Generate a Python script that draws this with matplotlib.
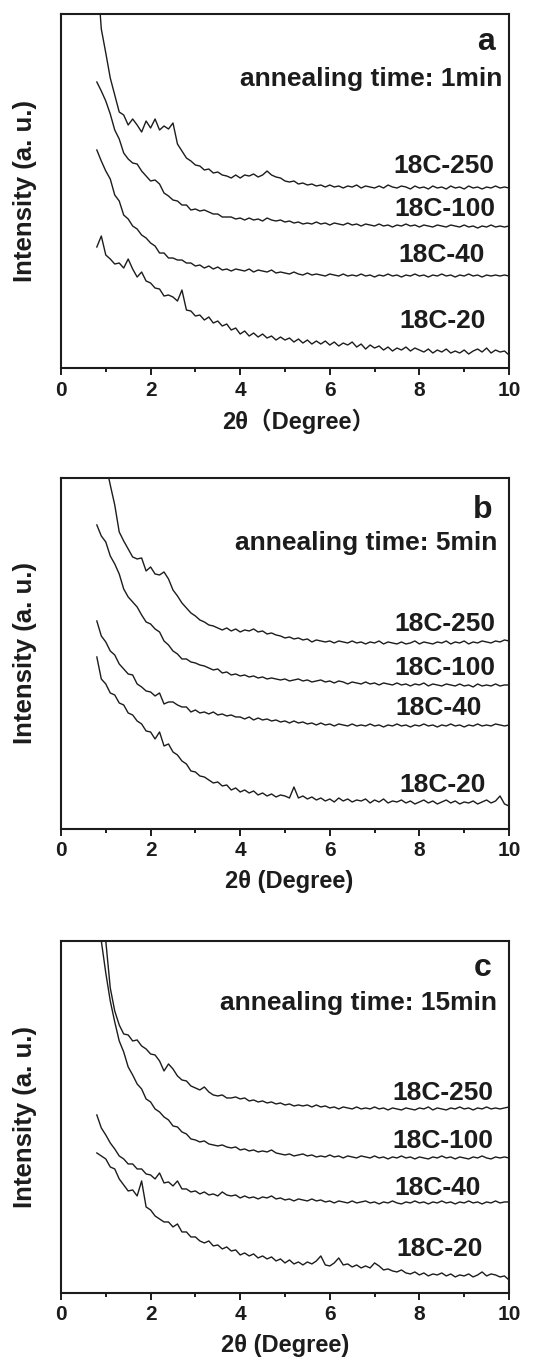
import matplotlib
matplotlib.use('Agg')
import matplotlib.pyplot as plt
from matplotlib.ticker import MultipleLocator

plt.rcParams['font.family'] = ['Liberation Sans', 'Noto Sans CJK SC', 'DejaVu Sans']
plt.rcParams['font.weight'] = 'bold'

# 2theta grid (degree), 0.8 .. 10.0
two_theta = [0.8, 0.9, 1.0, 1.1, 1.2, 1.3, 1.4, 1.5, 1.6, 1.7,
             1.8, 1.9, 2.0, 2.1, 2.2, 2.3, 2.4, 2.5, 2.6, 2.7,
             2.8, 2.9, 3.0, 3.1, 3.2, 3.3, 3.4, 3.5, 3.6, 3.7,
             3.8, 3.9, 4.0, 4.1, 4.2, 4.3, 4.4, 4.5, 4.6, 4.7,
             4.8, 4.9, 5.0, 5.1, 5.2, 5.3, 5.4, 5.5, 5.6, 5.7,
             5.8, 5.9, 6.0, 6.1, 6.2, 6.3, 6.4, 6.5, 6.6, 6.7,
             6.8, 6.9, 7.0, 7.1, 7.2, 7.3, 7.4, 7.5, 7.6, 7.7,
             7.8, 7.9, 8.0, 8.1, 8.2, 8.3, 8.4, 8.5, 8.6, 8.7,
             8.8, 8.9, 9.0, 9.1, 9.2, 9.3, 9.4, 9.5, 9.6, 9.7,
             9.8, 9.9, 10.0]

sample_names = ['18C-250', '18C-100', '18C-40', '18C-20']
annealing_times = ['1min', '5min', '15min']
panel_letters = ['a', 'b', 'c']

# ---- panel a : 1 min (stacked, offsets included) ----
a_250 = [400, 339, 315, 290, 273, 256, 253, 243, 249, 243,
         236, 247, 240, 249, 238, 242, 239, 245, 224, 217,
         210, 207, 203, 202, 198, 199, 195, 196, 193, 192,
         190, 193, 190, 193, 192, 194, 191, 193, 197, 193,
         191, 190, 187, 186, 187, 184, 185, 183, 184, 182,
         183, 181, 183, 181, 182, 180, 182, 181, 183, 180,
         182, 181, 180, 182, 180, 183, 181, 180, 182, 181,
         179, 182, 180, 181, 179, 182, 180, 181, 179, 182,
         180, 181, 179, 182, 180, 181, 179, 181, 180, 182,
         180, 181, 180]
a_100 = [286, 277, 267, 254, 238, 229, 215, 209, 205, 204,
         197, 192, 187, 188, 184, 175, 172, 168, 167, 163,
         163, 158, 159, 157, 158, 156, 154, 154, 151, 151,
         151, 149, 150, 148, 150, 148, 149, 147, 150, 148,
         147, 148, 146, 147, 145, 146, 144, 145, 144, 146,
         144, 145, 143, 145, 144, 143, 145, 143, 144, 142,
         144, 143, 142, 144, 142, 143, 141, 143, 142, 144,
         142, 143, 141, 143, 142, 141, 143, 142, 141, 143,
         142, 141, 143, 141, 142, 140, 142, 141, 143, 141,
         142, 141, 142]
a_40 = [218, 207, 197, 189, 173, 167, 153, 149, 142, 139,
        133, 130, 125, 122, 115, 115, 110, 110, 108, 108,
        105, 105, 102, 103, 100, 102, 99, 101, 98, 99,
        97, 99, 98, 97, 99, 96, 98, 97, 96, 98,
        95, 96, 95, 94, 96, 94, 93, 95, 93, 94,
        93, 92, 94, 93, 92, 94, 92, 93, 92, 94,
        92, 93, 91, 93, 92, 94, 92, 93, 91, 93,
        92, 94, 92, 93, 91, 93, 92, 94, 92, 93,
        91, 93, 92, 94, 92, 93, 91, 93, 92, 93,
        92, 93, 92]
a_20 = [121, 132, 113, 109, 104, 105, 100, 109, 99, 91,
        96, 87, 85, 80, 79, 72, 73, 71, 67, 78,
        58, 57, 52, 53, 48, 51, 45, 47, 42, 44,
        38, 40, 34, 37, 32, 35, 31, 34, 30, 32,
        28, 31, 28, 30, 26, 29, 25, 28, 24, 27,
        24, 27, 23, 26, 22, 25, 23, 26, 21, 24,
        19, 23, 20, 22, 18, 21, 17, 20, 18, 21,
        17, 20, 18, 16, 19, 15, 18, 16, 19, 15,
        17, 15, 18, 14, 17, 19, 16, 20, 15, 18,
        16, 17, 13]

# ---- panel b : 5 min ----
b_250 = [450, 400, 365, 344, 324, 297, 288, 280, 272, 270,
         271, 258, 262, 255, 254, 257, 250, 239, 233, 226,
         221, 216, 213, 209, 207, 204, 203, 201, 199, 201,
         198, 200, 197, 199, 198, 200, 197, 198, 195, 196,
         194, 193, 191, 192, 190, 191, 189, 190, 187, 189,
         188, 187, 188, 186, 188, 187, 186, 188, 186, 187,
         185, 187, 186, 188, 185, 187, 186, 185, 187, 185,
         186, 188, 185, 187, 186, 185, 187, 186, 188, 185,
         187, 186, 188, 185, 187, 186, 188, 187, 186, 188,
         187, 189, 188]
b_100 = [304, 293, 287, 273, 265, 255, 240, 232, 227, 222,
         214, 207, 205, 200, 197, 188, 184, 178, 175, 170,
         170, 167, 166, 164, 163, 161, 159, 160, 156, 157,
         154, 155, 153, 154, 152, 153, 151, 152, 150, 151,
         150, 149, 150, 148, 149, 150, 148, 149, 147, 148,
         149, 147, 148, 146, 148, 147, 145, 147, 146, 145,
         147, 145, 146, 144, 146, 145, 144, 146, 144, 145,
         143, 145, 144, 146, 143, 145, 144, 143, 145, 144,
         143, 145, 143, 144, 142, 145, 143, 144, 143, 145,
         143, 144, 144]
b_40 = [208, 193, 187, 178, 174, 165, 160, 155, 154, 145,
        142, 138, 137, 133, 136, 125, 127, 127, 124, 122,
        122, 117, 119, 116, 117, 115, 117, 114, 115, 113,
        114, 112, 112, 110, 112, 109, 111, 109, 110, 108,
        109, 107, 108, 106, 108, 106, 107, 105, 106, 104,
        106, 104, 105, 103, 105, 104, 103, 105, 103, 104,
        103, 105, 103, 104, 102, 104, 103, 105, 103, 104,
        102, 104, 103, 105, 103, 104, 102, 104, 103, 105,
        103, 104, 102, 104, 103, 105, 103, 104, 103, 105,
        104, 103, 104]
b_20 = [172, 150, 145, 136, 134, 126, 124, 116, 114, 108,
        105, 98, 97, 90, 97, 83, 85, 77, 74, 68,
        65, 58, 57, 53, 52, 49, 46, 47, 43, 44,
        39, 41, 37, 39, 36, 38, 34, 36, 33, 35,
        32, 34, 33, 31, 42, 31, 33, 30, 32, 29,
        31, 28, 30, 27, 31, 28, 30, 27, 29, 28,
        30, 26, 29, 27, 30, 26, 28, 27, 29, 26,
        28, 25, 27, 29, 26, 28, 25, 27, 29, 26,
        28, 25, 27, 26, 28, 25, 27, 29, 26, 28,
        33, 25, 23]

# ---- panel c : 15 min ----
c_250 = [480, 420, 352, 305, 282, 268, 259, 258, 252, 253,
         247, 244, 239, 238, 232, 222, 229, 224, 217, 213,
         212, 207, 205, 203, 206, 201, 198, 197, 198, 195,
         195, 196, 194, 195, 192, 193, 191, 192, 190, 191,
         189, 190, 188, 189, 187, 188, 187, 188, 186, 188,
         186, 187, 185, 186, 184, 186, 185, 184, 186, 184,
         185, 184, 186, 184, 185, 183, 185, 184, 183, 185,
         184, 183, 185, 184, 186, 183, 185, 184, 183, 185,
         184, 186, 184, 185, 183, 185, 184, 186, 184, 185,
         184, 185, 186]
c_100 = [420, 352, 320, 292, 271, 252, 241, 226, 218, 209,
         204, 194, 191, 184, 181, 176, 173, 167, 166, 161,
         159, 154, 153, 151, 152, 149, 148, 147, 148, 146,
         145, 146, 143, 144, 142, 143, 141, 142, 141, 143,
         140, 139, 138, 139, 137, 138, 139, 137, 138, 136,
         137, 136, 138, 136, 137, 135, 137, 136, 135, 137,
         136, 135, 137, 135, 136, 134, 136, 135, 137, 135,
         136, 134, 136, 135, 134, 136, 135, 137, 135, 136,
         134, 136, 135, 134, 136, 135, 137, 135, 134, 136,
         135, 136, 135]
c_40 = [178, 165, 158, 150, 144, 137, 134, 129, 129, 124,
        124, 119, 118, 114, 120, 110, 111, 107, 112, 104,
        104, 101, 102, 99, 101, 98, 99, 97, 101, 98,
        97, 98, 95, 97, 95, 96, 94, 96, 95, 97,
        94, 95, 93, 94, 92, 94, 93, 92, 94, 92,
        93, 91, 92, 90, 92, 91, 90, 92, 90, 91,
        92, 90, 91, 89, 91, 90, 92, 90, 89, 91,
        90, 92, 90, 91, 89, 91, 90, 92, 90, 91,
        89, 91, 90, 92, 90, 91, 89, 91, 90, 92,
        90, 91, 91]
c_20 = [140, 137, 134, 126, 124, 114, 108, 102, 103, 97,
        112, 86, 83, 77, 74, 71, 71, 66, 69, 61,
        61, 56, 56, 52, 50, 52, 47, 48, 44, 46,
        42, 43, 38, 40, 37, 39, 35, 37, 34, 36,
        32, 34, 30, 33, 29, 31, 28, 31, 29, 32,
        37, 28, 27, 30, 35, 28, 29, 26, 28, 25,
        27, 25, 30, 27, 23, 24, 22, 21, 23, 20,
        19, 21, 18, 20, 17, 19, 18, 20, 17, 19,
        16, 18, 17, 19, 16, 18, 21, 17, 19, 18,
        16, 17, 13]

panels = [[a_250, a_100, a_40, a_20],
          [b_250, b_100, b_40, b_20],
          [c_250, c_100, c_40, c_20]]

# layout (figure fractions) and label spots
axes_rects = [[0.1089, 0.7292, 0.8, 0.2605],
              [0.1089, 0.3900, 0.8, 0.2583],
              [0.1089, 0.0486, 0.8, 0.2590]]
y_tops = [354, 351, 352]
label_spots = [[(8.55, 195), (8.58, 152), (8.50, 106), (8.52, 40)],
               [(8.58, 198), (8.58, 154), (8.43, 114), (8.52, 37)],
               [(8.52, 193), (8.53, 145), (8.41, 98), (8.45, 37)]]
letter_spots = [(9.68, 318), (9.63, 311), (9.60, 317)]
time_spots = [(9.86, 282), (9.73, 279), (9.73, 283)]
xlabels = ['2θ（Degree）', '2θ (Degree)', '2θ (Degree)']
xlabel_x = [0.53, 0.51, 0.5]

ink = '#1c1c1c'
fig = plt.figure(figsize=(5.6, 13.59), dpi=100)

for k in range(3):
    ax = fig.add_axes(axes_rects[k])
    for curve in panels[k]:
        ax.plot(two_theta, curve, color=ink, lw=1.0)

    ax.set_xlim(0, 10)
    ax.set_ylim(0, y_tops[k])
    ax.set_yticks([])
    ax.xaxis.set_major_locator(MultipleLocator(2))
    ax.xaxis.set_minor_locator(MultipleLocator(1))
    ax.tick_params(axis='x', which='major', direction='out', length=5,
                   width=1.4, labelsize=15, pad=4, colors=ink)
    ax.tick_params(axis='x', which='minor', direction='out', length=3,
                   width=1.4, colors=ink)
    ax.tick_params(top=False, right=False)
    for lab in ax.get_xticklabels():
        lab.set_fontweight('bold')
    for sp in ax.spines.values():
        sp.set_linewidth(1.5)
        sp.set_color(ink)

    for name, (tx, ty) in zip(sample_names, label_spots[k]):
        ax.text(tx, ty, name, ha='center', va='baseline', fontsize=19,
                fontweight='bold', color=ink)
    lx, ly = letter_spots[k]
    ax.text(lx, ly, panel_letters[k], ha='right', va='baseline', fontsize=23,
            fontweight='bold', color=ink)
    tx, ty = time_spots[k]
    ax.text(tx, ty, 'annealing time: ' + annealing_times[k], ha='right',
            va='baseline', fontsize=19, fontweight='bold', color=ink)

    ax.set_ylabel('Intensity (a. u.)', fontsize=18.5, fontweight='bold', color=ink)
    ax.yaxis.set_label_coords(-0.08, 0.5)
    ax.yaxis.label.set_verticalalignment('center')
    ax.set_xlabel(xlabels[k], fontsize=17, fontweight='bold', color=ink)
    ax.xaxis.set_label_coords(xlabel_x[k], -53 / y_tops[k])
    ax.xaxis.label.set_verticalalignment('center')

fig.savefig('out.png', dpi=100)
